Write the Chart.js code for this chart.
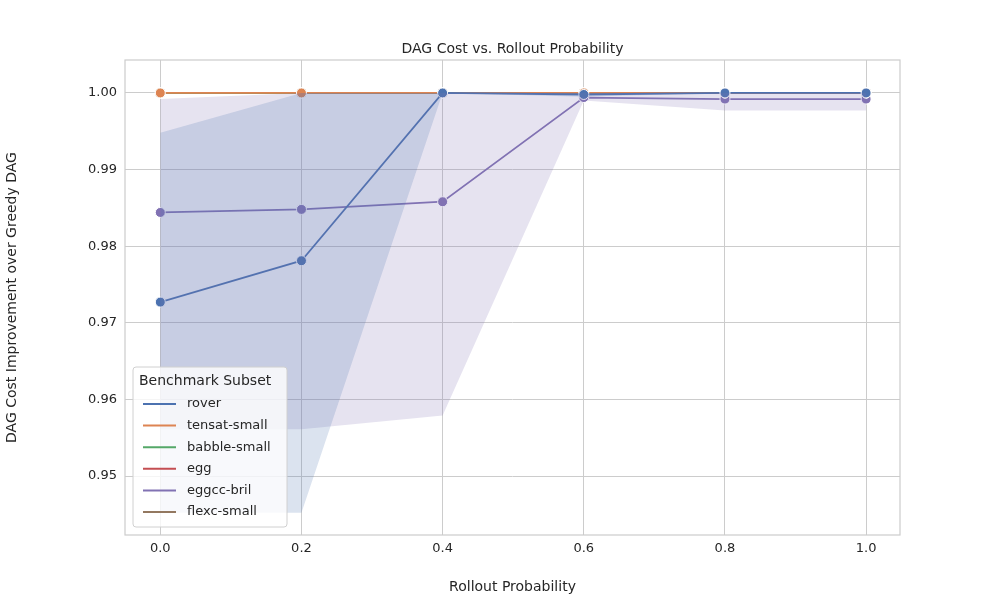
<!DOCTYPE html><html><head><meta charset="utf-8">
<script src="https://cdn.jsdelivr.net/npm/chart.js@4"></script>
<style>body{margin:0;background:#fff}#w{width:1000px;height:600px}</style></head><body>
<div id="w"><canvas id="c" width="1000" height="600"></canvas></div>
<script>
const xs=[0,0.2,0.4,0.6,0.8,1.0];
const names=['rover','tensat-small','babble-small','egg','eggcc-bril','flexc-small'];
const colors=['#4c72b0','#dd8452','#55a868','#c44e52','#8172b3','#937860'];
const rover=[0.9727,0.9781,1.0,0.9998,1.0,1.0];
const tensat=[1,1,1,1,1,1];
const babble=[1,1,1,1,1,1];
const egg=[1,1,1,1,1,1];
const eggcc=[0.9844,0.9848,0.9858,0.9994,0.9992,0.9992];
const flexc=[1,1,1,1,1,1];
const roverLo=[0.9452,0.9452,1.0,0.9995,1.0,1.0];
const roverHi=[0.9948,1.0,1.0,1.0,1.0,1.0];
const eggccLo=[0.9561,0.9561,0.9579,0.999,0.9977,0.9977];
const eggccHi=[0.9992,1.0,1.0,1.0,1.0,1.0];
const series=[rover,tensat,babble,egg,eggcc,flexc];
const pts=a=>xs.map((x,i)=>({x,y:a[i]}));
const ds=[];
function band(lo,hi,col){
 ds.push({data:pts(lo),borderWidth:0,pointRadius:0,fill:false,backgroundColor:'transparent'});
 ds.push({data:pts(hi),borderWidth:0,pointRadius:0,fill:'-1',backgroundColor:col+'33'});
}
band(roverLo,roverHi,colors[0]);band(eggccLo,eggccHi,colors[4]);
series.forEach((s,i)=>ds.push({data:pts(s),borderColor:colors[i],backgroundColor:colors[i],borderWidth:1.8,pointRadius:5,pointBorderColor:'#fff',pointBorderWidth:1,fill:false}));
const deco={id:'deco',afterDraw(ch){const c=ch.ctx,a=ch.chartArea;c.save();
 c.strokeStyle='#cccccc';c.lineWidth=1.2;c.strokeRect(a.left,a.top,a.right-a.left,a.bottom-a.top);
 c.fillStyle='#262626';c.font='14px "DejaVu Sans"';c.textAlign='center';c.textBaseline='middle';
 c.fillText('DAG Cost vs. Rollout Probability',(a.left+a.right)/2,59-10);
 const lx=a.left+8,ly=367,lw=154,lh=160;
 c.fillStyle='rgba(255,255,255,0.8)';c.strokeStyle='#d0d0d0';c.lineWidth=1;
 c.beginPath();c.roundRect(lx,ly,lw,lh,3);c.fill();c.stroke();
 c.fillStyle='#262626';c.textAlign='left';c.font='14px "DejaVu Sans"';c.fillText('Benchmark Subset',lx+6,ly+14);
 c.font='13px "DejaVu Sans"';
 names.forEach((n,i)=>{const y=ly+37+i*21.6;c.strokeStyle=colors[i];c.lineWidth=2;c.beginPath();c.moveTo(lx+10,y);c.lineTo(lx+43,y);c.stroke();c.fillStyle='#262626';c.fillText(n,lx+54,y);});
 c.restore();}};
const tk={color:'#262626',font:{size:13,family:'DejaVu Sans'}};
new Chart(document.getElementById('c'),{type:'line',data:{datasets:ds},plugins:[deco],
options:{responsive:false,animation:false,layout:{padding:{top:60,right:100,left:0,bottom:0}},
plugins:{legend:{display:false},tooltip:{enabled:false}},
scales:{x:{type:'linear',min:-0.05,max:1.048,afterBuildTicks:s=>{s.ticks=xs.map(v=>({value:v}))},
 ticks:{...tk,callback:v=>v.toFixed(1),padding:6},grid:{color:'#cccccc',drawTicks:false},border:{display:false},
 title:{display:true,text:'Rollout Probability',color:'#262626',font:{size:14,family:'DejaVu Sans'}},afterFit:s=>{s.height=65}},
 y:{min:0.9423,max:1.0043,afterBuildTicks:s=>{s.ticks=[0.95,0.96,0.97,0.98,0.99,1.0].map(v=>({value:v}))},
 ticks:{...tk,callback:v=>v.toFixed(2),padding:8},grid:{color:'#cccccc',drawTicks:false},border:{display:false},
 title:{display:true,text:'DAG Cost Improvement over Greedy DAG',color:'#262626',font:{size:14,family:'DejaVu Sans'}},afterFit:s=>{s.width=125}}}}});
</script></body></html>
